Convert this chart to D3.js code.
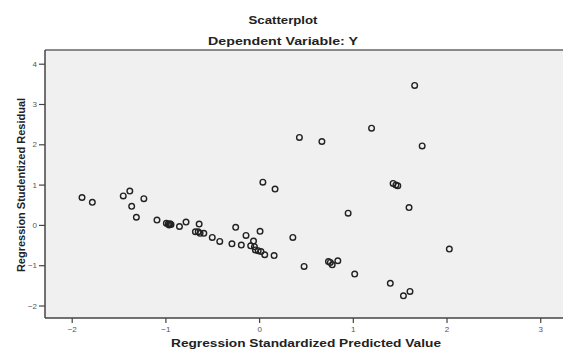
<!DOCTYPE html>
<html>
<head>
<meta charset="utf-8">
<script src="https://cdn.jsdelivr.net/npm/d3@7"></script>
<style>
  body { margin: 0; background: #fff; }
  svg { display: block; font-family: "Liberation Sans", Arial, sans-serif; }
</style>
</head>
<body>
<div id="chart"></div>
<script>
// standardized predicted values (x) and studentized residuals (y)
const predicted = [
  -1.89, -1.78, -1.45, -1.38, -1.23, -1.36, -1.31, -1.09,
  -0.99, -0.97, -0.96, -0.95, -0.94, -0.85, -0.78, -0.64,
  -0.68, -0.65, -0.63, -0.59, -0.50, -0.42, -0.29, -0.19,
  -0.25, -0.14, -0.06, -0.09, -0.05, -0.04, -0.01, 0.01, 0.02,
  0.06, 0.16, 0.36, 0.48, 0.74, 0.76, 0.78, 0.84, 0.95,
  1.66, 1.20, 0.43, 0.67, 1.74, 0.04, 0.17, 1.43, 1.46, 1.48,
  1.60, 2.03, 1.02, 1.40, 1.61, 1.54
];
const residuals = [
  0.68, 0.56, 0.72, 0.84, 0.65, 0.46, 0.19, 0.12,
  0.04, 0.02, 0.00, 0.03, 0.01, -0.04, 0.07, 0.02,
  -0.17, -0.17, -0.21, -0.21, -0.31, -0.41, -0.47, -0.50,
  -0.06, -0.26, -0.40, -0.52, -0.54, -0.62, -0.64, -0.16, -0.66,
  -0.74, -0.76, -0.31, -1.03, -0.91, -0.93, -0.99, -0.89, 0.29,
  3.46, 2.40, 2.17, 2.07, 1.96, 1.06, 0.89, 1.03, 0.99, 0.97,
  0.43, -0.60, -1.22, -1.45, -1.65, -1.76
];
const xTicks = [-2, -1, 0, 1, 2, 3];
const yTicks = [-2, -1, 0, 1, 2, 3, 4];

const W = 563, H = 351;
const margin = {top: 50, right: 0, bottom: 33, left: 45};
const width = W - margin.left - margin.right,
      height = H - margin.top - margin.bottom;

const x = d3.scaleLinear().domain([-2.285, 3.243]).range([0, width]);
const y = d3.scaleLinear().domain([-2.31, 4.34]).range([height, 0]);

const svg = d3.select("#chart").append("svg")
    .attr("width", W)
    .attr("height", H);

// the original image is stretched sideways, so texts get a fixed length
function label(txt, len, size) {
  return svg.append("text")
    .attr("text-anchor", "middle")
    .attr("font-size", size + "px").attr("font-weight", "bold")
    .attr("fill", "#222")
    .attr("textLength", len)
    .attr("lengthAdjust", "spacingAndGlyphs")
    .text(txt);
}

label("Scatterplot", 69, 11).attr("x", 283).attr("y", 24);
label("Dependent Variable: Y", 150, 11).attr("x", 283).attr("y", 45);

const g = svg.append("g")
    .attr("transform", "translate(" + margin.left + "," + margin.top + ")");

g.append("rect")
    .attr("width", width).attr("height", height)
    .attr("fill", "#f0f0f0");

// frame: top, left, bottom
g.append("line").attr("x1", 0).attr("x2", width).attr("y1", 0).attr("y2", 0)
    .attr("stroke", "#666").attr("stroke-width", 1.5);
g.append("line").attr("x1", 0).attr("x2", 0).attr("y1", 0).attr("y2", height)
    .attr("stroke", "#444").attr("stroke-width", 1.5);
g.append("line").attr("x1", 0).attr("x2", width).attr("y1", height).attr("y2", height)
    .attr("stroke", "#444").attr("stroke-width", 1.5);

const xAxis = d3.axisBottom(x).tickValues(xTicks).tickSize(5).tickFormat(d3.format("d"));
const yAxis = d3.axisLeft(y).tickValues(yTicks).tickSize(6).tickFormat(d3.format("d"));

const gx = g.append("g")
    .attr("transform", "translate(0," + height + ")")
    .call(xAxis);
const gy = g.append("g").call(yAxis);

[gx, gy].forEach(a => {
  a.select(".domain").remove();
  a.selectAll(".tick line").attr("stroke", "#444").attr("stroke-width", 1.2);
  a.selectAll(".tick text")
    .attr("fill", "#555")
    .attr("font-size", "8px")
    .attr("font-family", "Liberation Sans, Arial, sans-serif");
});
gy.selectAll(".tick text").attr("x", -8);

g.selectAll("circle.pt")
    .data(predicted.map((p, i) => [p, residuals[i]]))
    .enter().append("circle")
    .attr("class", "pt")
    .attr("cx", d => x(d[0]))
    .attr("cy", d => y(d[1]))
    .attr("r", 2.8)
    .attr("fill", "none")
    .attr("stroke", "#222")
    .attr("stroke-width", 1.4);

label("Regression Standardized Predicted Value", 270, 11).attr("x", 306).attr("y", 347);

svg.append("text")
    .attr("transform", "translate(25,185) rotate(-90)")
    .attr("text-anchor", "middle")
    .attr("font-size", "11px").attr("font-weight", "bold")
    .attr("fill", "#222")
    .text("Regression Studentized Residual");
</script>
</body>
</html>
